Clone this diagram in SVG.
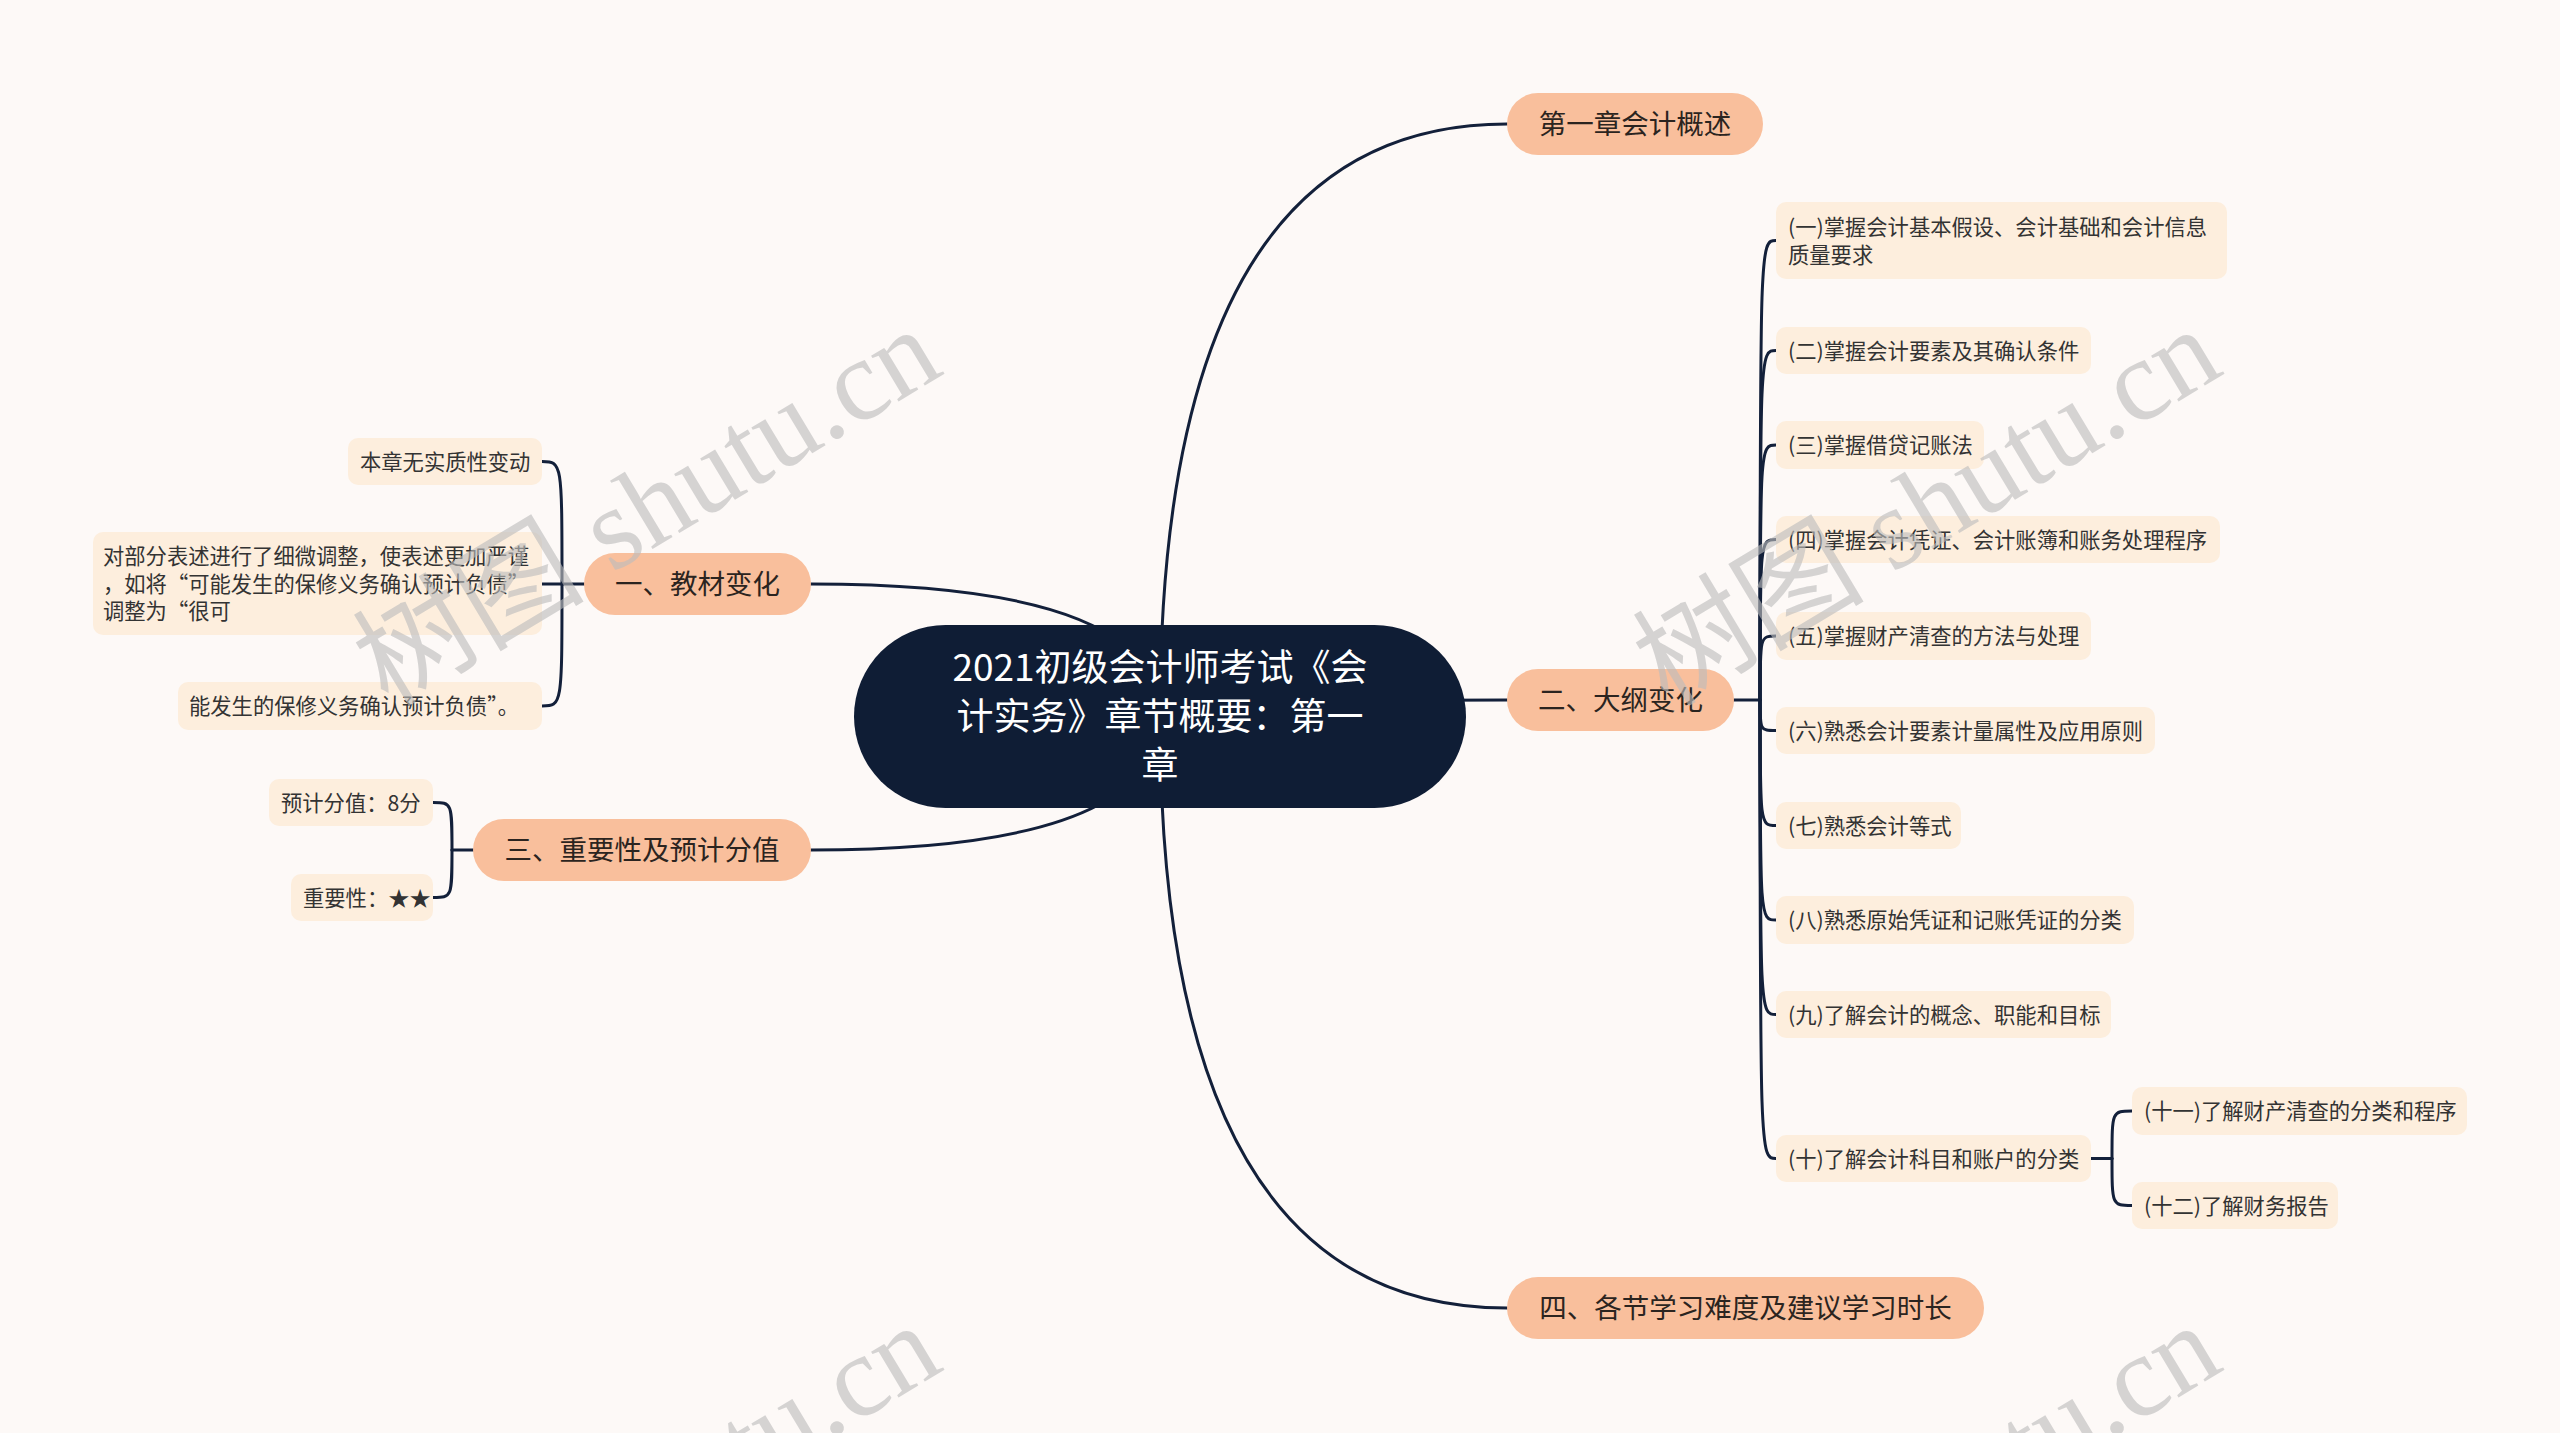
<svg xmlns="http://www.w3.org/2000/svg" width="2560" height="1433" viewBox="0 0 2560 1433">
<style>
.bg{fill:#fdf9f7}
.root{fill:#0f1d35}
.rt{fill:#ffffff;font-family:"Noto Sans CJK SC","Noto Sans",sans-serif;font-size:37px;text-anchor:middle}
.l1{fill:#f9bf9c}
.t1{fill:#2b2420;font-family:"Noto Sans CJK SC","Noto Sans",sans-serif;font-size:27.5px;text-anchor:middle}
.l2{fill:#fdeedd}
.t2{fill:#333333;font-family:"Noto Sans CJK SC","Noto Sans",sans-serif;font-size:21.3px}
.ln{fill:none;stroke:#13203a;stroke-width:3;stroke-linecap:round}
.wm{fill:#bdbdbd;opacity:0.62;font-family:"Liberation Serif","Noto Sans CJK SC",serif;font-size:116px}
</style>
<rect class="bg" x="0" y="0" width="2560" height="1433"/>
<g id="connectors">
<path class="ln" d="M1160 716 Q1160 124 1507 124"/>
<path class="ln" d="M1160 716 Q1160 700 1507 700"/>
<path class="ln" d="M1160 716 Q1160 1308 1507 1308"/>
<path class="ln" d="M1160 716 Q1160 584 811 584"/>
<path class="ln" d="M1160 716 Q1160 850 811 850"/>
<path class="ln" d="M1734 700 H1760"/>
<path class="ln" d="M1760 700 C1760 240.5 1760 240.5 1776 240.5"/>
<path class="ln" d="M1760 700 C1760 350.5 1760 350.5 1776 350.5"/>
<path class="ln" d="M1760 700 C1760 445 1760 445 1776 445"/>
<path class="ln" d="M1760 700 C1760 539.5 1760 539.5 1776 539.5"/>
<path class="ln" d="M1760 700 C1760 636 1760 636 1776 636"/>
<path class="ln" d="M1760 700 C1760 730.5 1760 730.5 1776 730.5"/>
<path class="ln" d="M1760 700 C1760 825.5 1760 825.5 1776 825.5"/>
<path class="ln" d="M1760 700 C1760 920 1760 920 1776 920"/>
<path class="ln" d="M1760 700 C1760 1014.5 1760 1014.5 1776 1014.5"/>
<path class="ln" d="M1760 700 C1760 1158.5 1760 1158.5 1776 1158.5"/>
<path class="ln" d="M2091 1158.5 H2112"/>
<path class="ln" d="M2112 1158.5 C2112 1111 2112 1111 2132 1111"/>
<path class="ln" d="M2112 1158.5 C2112 1205.5 2112 1205.5 2132 1205.5"/>
<path class="ln" d="M584 584 H562"/>
<path class="ln" d="M562 584 C562 461.5 562 461.5 542 461.5"/>
<path class="ln" d="M562 584 H542"/>
<path class="ln" d="M562 584 C562 706 562 706 542 706"/>
<path class="ln" d="M473 850 H452"/>
<path class="ln" d="M452 850 C452 802.5 452 802.5 433 802.5"/>
<path class="ln" d="M452 850 C452 897.5 452 897.5 433 897.5"/>
</g>
<g id="root">
<rect class="root" x="854" y="625" width="612" height="183" rx="91.5"/>
<text class="rt" x="1160" y="681">2021初级会计师考试《会</text>
<text class="rt" x="1160" y="730">计实务》章节概要：第一</text>
<text class="rt" x="1160" y="779">章</text>
</g>
<g id="n1"><rect class="l1" x="1507" y="93" width="256" height="62" rx="31"/><text class="t1" x="1635" y="134">第一章会计概述</text></g>
<g id="n2"><rect class="l1" x="1507" y="669" width="227" height="62" rx="31"/><text class="t1" x="1620.5" y="710">二、大纲变化</text></g>
<g id="n4"><rect class="l1" x="1507" y="1277" width="477" height="62" rx="31"/><text class="t1" x="1745.5" y="1318">四、各节学习难度及建议学习时长</text></g>
<g id="n3a"><rect class="l1" x="584" y="553" width="227" height="62" rx="31"/><text class="t1" x="697.5" y="594">一、教材变化</text></g>
<g id="n3b"><rect class="l1" x="473" y="819" width="338" height="62" rx="31"/><text class="t1" x="642" y="860">三、重要性及预计分值</text></g>
<g id="c1"><rect class="l2" x="1776" y="202" width="451" height="77" rx="10"/><text class="t2" x="1788" y="234.5">(一)掌握会计基本假设、会计基础和会计信息</text><text class="t2" x="1788" y="262.5">质量要求</text></g>
<g id="c2"><rect class="l2" x="1776" y="327" width="315" height="47" rx="10"/><text class="t2" x="1788" y="358.5">(二)掌握会计要素及其确认条件</text></g>
<g id="c3"><rect class="l2" x="1776" y="421" width="208" height="48" rx="10"/><text class="t2" x="1788" y="453">(三)掌握借贷记账法</text></g>
<g id="c4"><rect class="l2" x="1776" y="516" width="444" height="47" rx="10"/><text class="t2" x="1788" y="547.5">(四)掌握会计凭证、会计账簿和账务处理程序</text></g>
<g id="c5"><rect class="l2" x="1776" y="612" width="315" height="48" rx="10"/><text class="t2" x="1788" y="644">(五)掌握财产清查的方法与处理</text></g>
<g id="c6"><rect class="l2" x="1776" y="707" width="379" height="47" rx="10"/><text class="t2" x="1788" y="738.5">(六)熟悉会计要素计量属性及应用原则</text></g>
<g id="c7"><rect class="l2" x="1776" y="802" width="185" height="47" rx="10"/><text class="t2" x="1788" y="833.5">(七)熟悉会计等式</text></g>
<g id="c8"><rect class="l2" x="1776" y="896" width="358" height="48" rx="10"/><text class="t2" x="1788" y="928">(八)熟悉原始凭证和记账凭证的分类</text></g>
<g id="c9"><rect class="l2" x="1776" y="991" width="335" height="47" rx="10"/><text class="t2" x="1788" y="1022.5">(九)了解会计的概念、职能和目标</text></g>
<g id="c10"><rect class="l2" x="1776" y="1135" width="315" height="47" rx="10"/><text class="t2" x="1788" y="1166.5">(十)了解会计科目和账户的分类</text></g>
<g id="c11"><rect class="l2" x="2132" y="1087" width="335" height="48" rx="10"/><text class="t2" x="2144" y="1119">(十一)了解财产清查的分类和程序</text></g>
<g id="c12"><rect class="l2" x="2132" y="1182" width="206" height="47" rx="10"/><text class="t2" x="2144" y="1213.5">(十二)了解财务报告</text></g>
<g id="a1"><rect class="l2" x="348" y="438" width="194" height="47" rx="10"/><text class="t2" x="360" y="469.5">本章无实质性变动</text></g>
<g id="a2"><rect class="l2" x="93" y="532" width="449" height="103" rx="10"/><text class="t2" x="103" y="564">对部分表述进行了细微调整，使表述更加严谨</text><text class="t2" x="103" y="591.5">，如将“可能发生的保修义务确认预计负债”</text><text class="t2" x="103" y="619">调整为“很可</text></g>
<g id="a3"><rect class="l2" x="178" y="682" width="364" height="48" rx="10"/><text class="t2" x="189" y="714">能发生的保修义务确认预计负债”。</text></g>
<g id="b1"><rect class="l2" x="269" y="779" width="164" height="47" rx="10"/><text class="t2" x="281" y="810.5">预计分值：8分</text></g>
<g id="b2"><rect class="l2" x="291" y="874" width="142" height="47" rx="10"/><text class="t2" x="303" y="905.5">重要性：★★</text></g>
<g id="watermark">
<text class="wm" x="388" y="708" transform="rotate(-31 388 708)">树图 shutu.cn</text>
<text class="wm" x="1668" y="708" transform="rotate(-31 1668 708)">树图 shutu.cn</text>
<text class="wm" x="388" y="1704" transform="rotate(-31 388 1704)">树图 shutu.cn</text>
<text class="wm" x="1668" y="1704" transform="rotate(-31 1668 1704)">树图 shutu.cn</text>
</g>
</svg>
